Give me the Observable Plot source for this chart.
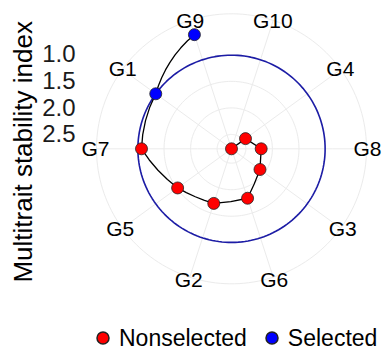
<!DOCTYPE html>
<html><head><meta charset="utf-8">
<script src="https://cdn.jsdelivr.net/npm/d3@7"></script>
<script src="https://cdn.jsdelivr.net/npm/@observablehq/plot@0.6"></script>
<style>
html,body{margin:0;padding:0;background:#fff;}
#chart{position:relative;width:382px;height:349px;overflow:hidden;font-family:"Liberation Sans",Arial,sans-serif;}
#legend{position:absolute;left:0;top:323px;}
.leg-swatches{font-family:"Liberation Sans",Arial,sans-serif;font-size:23px;color:#000;margin:0;padding-left:95px;}
.leg-swatches-wrap{display:flex;align-items:center;min-height:30px;flex-wrap:nowrap;}
.leg-swatch{display:inline-flex;align-items:center;margin-right:17px;white-space:nowrap;}
.leg-swatch > svg{margin-right:8px;overflow:visible;}
</style></head><body><div id="chart"><div id="legend"></div></div>
<script>
// ---- data ----
const genotypes = ["G10","G4","G8","G3","G6","G2","G5","G7","G1","G9"];
const mtsi      = [2.77, 2.444, 2.211, 2.107, 1.791, 1.689, 1.516, 1.075, 1.007, 0.51];
const selection = ["Nonselected","Nonselected","Nonselected","Nonselected","Nonselected",
                   "Nonselected","Nonselected","Nonselected","Selected","Selected"];
const cutpoint = 1.007;
const radialTicks = [1.0, 1.5, 2.0, 2.5];
const groups = ["Nonselected","Selected"];
const groupColors = ["#FF0000","#0000FF"];
const yTitle = "Multitrait stability index";

const data = genotypes.map((g, i) => ({genotype: g, mtsi: mtsi[i], sel: selection[i]}));

// ---- polar layout via azimuthal projection centred on the pole ----
const degPerPx = 0.75;            // colatitude degrees per screen pixel
const rData = 120, rOuter = 135;  // data radius and outer ring radius (px)
const colat = d3.scaleLinear().domain([d3.max(mtsi), d3.min(mtsi)]).range([0, rData * degPerPx]);
const outerColat = rOuter * degPerPx;
const lon = d3.scalePoint(genotypes, [162, -162]);
const lat = v => 90 - colat(v);
const circle = c => d3.geoCircle().center([0, 90]).radius(c)();
const labelColat = g => {
  const th = (180 - lon(g)) * Math.PI / 180;
  return (136 - 2.5 * Math.cos(th)) * degPerPx;
};

const W = 382, H = 305;
const mL = 96, mT = 13.3, frame = 270;

const plot = Plot.plot({
  width: W, height: H,
  marginLeft: mL, marginRight: W - mL - frame, marginTop: mT, marginBottom: H - mT - frame,
  projection: {type: "azimuthal-equidistant", rotate: [0, -90], domain: circle(outerColat), clip: false},
  color: {domain: groups, range: groupColors},
  symbol: {domain: groups, range: ["circle", "circle"]},
  style: {fontFamily: "Liberation Sans, Arial, sans-serif", background: "white", overflow: "visible"},
  marks: [
    Plot.geo(radialTicks.map(t => circle(colat(t))).concat([circle(outerColat)]),
      {fill: "none", stroke: "#EBEBEB", strokeWidth: 1}),
    Plot.link(genotypes, {x1: g => lon(g), y1: () => 90, x2: g => lon(g), y2: () => 90 - outerColat,
      stroke: "#EBEBEB", strokeWidth: 1}),
    Plot.geo([circle(colat(cutpoint))], {fill: "none", stroke: "#1c1ca6", strokeWidth: 1.6}),
    Plot.line(data, {x: d => lon(d.genotype), y: d => lat(d.mtsi), stroke: "black", strokeWidth: 1.3}),
    Plot.dot(data, {x: d => lon(d.genotype), y: d => lat(d.mtsi), fill: "sel", symbol: "sel",
      r: 6, stroke: "#222", strokeWidth: 0.8}),
    Plot.text(genotypes, {x: g => lon(g), y: g => 90 - labelColat(g), text: d => d,
      fontSize: 21, fill: "black"}),
    Plot.text(radialTicks, {x: () => 180, y: t => lat(t), text: t => t.toFixed(1),
      textAnchor: "end", dx: -156, fontSize: 24, fill: "#1a1a1a"}),
    Plot.text([yTitle], {frameAnchor: "left", textAnchor: "middle", rotate: -90, dx: -73, dy: 3,
      fontSize: 26, fill: "black"})
  ]
});

document.getElementById("chart").prepend(plot);
const leg = plot.legend("symbol", {className: "leg", r: 6, swatchSize: 16});
document.getElementById("legend").appendChild(leg);
</script>
</body></html>
